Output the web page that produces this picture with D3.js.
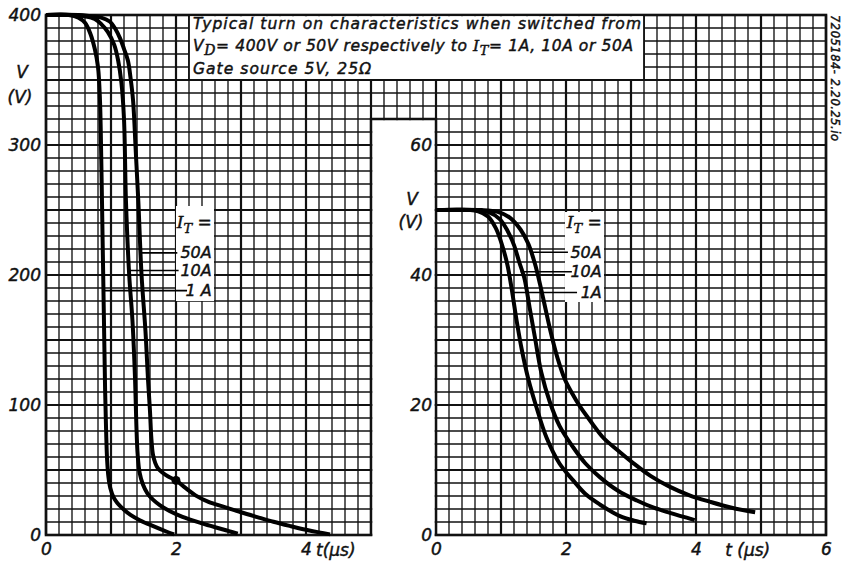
<!DOCTYPE html>
<html>
<head>
<meta charset="utf-8">
<script src="https://cdn.jsdelivr.net/npm/d3@7/dist/d3.min.js"></script>
<style>
  html, body { margin: 0; padding: 0; background: #fff; }
  svg { display: block; }
  text { font-family: "DejaVu Sans", sans-serif; font-style: italic; fill: #111; stroke: #111; stroke-width: 0.45px; }
  .serif { font-family: "DejaVu Serif", serif; }
</style>
</head>
<body>
<svg id="chart" width="845" height="566"></svg>
<script>
// ---------------- DATA ----------------
const currents = ["1A", "10A", "50A"];

// Left panel: switched from VD = 400 V (t in µs, V in volts)
const left1A_t  = [0, 0.35, 0.5, 0.6, 0.68, 0.75, 0.8, 0.83, 0.85, 0.87, 0.89, 0.91, 0.925, 0.94, 0.96, 0.99, 1.04, 1.1, 1.2, 1.3, 1.45, 1.65, 1.86, 1.97];
const left1A_v  = [400, 400, 398, 394, 386, 374, 360, 335, 290, 230, 170, 110, 80, 58, 45, 36, 29, 24.5, 19.5, 15.5, 11.2, 6.8, 2.5, 0.5];
const left10A_t = [0, 0.4, 0.6, 0.75, 0.85, 0.95, 1.05, 1.11, 1.16, 1.2, 1.23, 1.28, 1.33, 1.37, 1.39, 1.41, 1.44, 1.49, 1.56, 1.65, 1.75, 1.9, 2.1, 2.4, 2.63, 2.8, 2.95];
const left10A_v = [400, 400, 399, 397, 393, 387, 377, 365, 348, 320, 257, 200, 165, 120, 85, 62, 48, 39, 32, 27, 23, 18.5, 14, 9, 5.6, 3.2, 1];
const left50A_t = [0, 0.5, 0.7, 0.85, 0.98, 1.07, 1.14, 1.2, 1.26, 1.30, 1.34, 1.38, 1.42, 1.47, 1.53, 1.57, 1.60, 1.62, 1.645, 1.68, 1.72, 1.78, 1.88, 2.0, 2.15, 2.3, 2.5, 2.75, 3.0, 3.25, 3.5, 3.75, 4.0, 4.2, 4.37];
const left50A_v = [400, 400, 399, 398, 395, 389, 382, 374, 365, 352, 334, 296, 257, 200, 157, 119, 95, 75, 62, 55.5, 51.5, 48.5, 45, 42, 36, 30.5, 25.5, 21.5, 17.5, 13.8, 10.2, 7, 4, 2, 0.5];
const leftMarker = { t: 2.0, v: 42 };

// Right panel: switched from VD = 50 V
const right1A_t  = [0, 0.5, 0.65, 0.8, 0.92, 1.02, 1.1, 1.17, 1.24, 1.32, 1.42, 1.55, 1.7, 1.9, 2.11, 2.3, 2.52, 2.83, 3.05, 3.24];
const right1A_v  = [50, 50, 49.8, 49.0, 47.2, 44.5, 41.5, 37.5, 33, 28.5, 24, 19.5, 15, 11, 8.4, 6.3, 4.7, 2.9, 2.2, 1.8];
const right10A_t = [0, 0.6, 0.8, 0.98, 1.1, 1.2, 1.28, 1.36, 1.44, 1.52, 1.62, 1.75, 1.9, 2.11, 2.3, 2.52, 2.8, 3.09, 3.35, 3.6, 3.98];
const right10A_v = [50, 50, 49.7, 48.6, 46.8, 44.6, 42.0, 39.5, 35, 30.5, 25, 20.5, 16.8, 13.5, 11, 8.9, 6.8, 5.3, 4.2, 3.4, 2.3];
const right50A_t = [0, 0.7, 0.95, 1.14, 1.3, 1.42, 1.52, 1.6, 1.68, 1.77, 1.87, 1.98, 2.1, 2.22, 2.4, 2.57, 2.8, 3.03, 3.3, 3.6, 3.9, 4.22, 4.55, 4.91];
const right50A_v = [50, 50, 49.7, 48.8, 47, 44.8, 41.8, 38.6, 35, 31, 27.2, 24, 21.7, 19.7, 17.2, 15.0, 13, 11.1, 9.1, 7.4, 6.1, 5.1, 4.2, 3.5];

// Tick labels
const leftYTicks  = [0, 100, 200, 300, 400];
const rightYTicks = [0, 20, 40, 60];
const leftXTicks  = [0, 2, 4];
const rightXTicks = [0, 2, 4, 6];

// Texts
const titleLine1 = "Typical turn on characteristics when switched from";
const titleLine3 = "Gate source 5V, 25\u03A9";
const docCode = "7205184- 2.20.25.io";

// Legend leader lines (in data coordinates of each panel): [label, v, tStart, tEnd]
const leftLeaders  = [["50A", 217, 1.45, 2.02], ["10A", 203.5, 1.29, 2.04], ["1 A", 188, 0.88, 2.17]];
const rightLeaders = [["50A", 43.5, 1.45, 2.03], ["10A", 40.5, 1.3, 2.09], ["1A", 37.3, 1.17, 2.17]];

// ---------------- LAYOUT ----------------
const svg = d3.select("#chart");
const cell = 13, x0 = 46, yBottom = 535, nCols = 60, nRows = 40;
const yTop = yBottom - nRows * cell;

const xL = d3.scaleLinear().domain([0, 5]).range([x0, x0 + 25 * cell]);
const xR = d3.scaleLinear().domain([0, 6]).range([x0 + 30 * cell, x0 + 60 * cell]);
const yL = d3.scaleLinear().domain([0, 400]).range([yBottom, yTop]);
const yR = d3.scaleLinear().domain([0, 80]).range([yBottom, yTop]);
const gCol = d3.scaleLinear().domain([0, nCols]).range([x0, x0 + nCols * cell]);
const gRow = d3.scaleLinear().domain([0, nRows]).range([yBottom, yTop]);

// ---------------- GRID ----------------
const grid = svg.append("g").attr("stroke", "#111");
grid.selectAll("line.v").data(d3.range(0, nCols + 1)).join("line")
  .attr("x1", d => gCol(d)).attr("x2", d => gCol(d))
  .attr("y1", yTop).attr("y2", yBottom)
  .attr("stroke-width", d => d % 5 === 0 ? 2.2 : 1.35);
grid.selectAll("line.h").data(d3.range(0, nRows + 1)).join("line")
  .attr("y1", d => gRow(d)).attr("y2", d => gRow(d))
  .attr("x1", x0).attr("x2", x0 + nCols * cell)
  .attr("stroke-width", d => d % 5 === 0 ? 2.2 : 1.35);

// outer border
svg.append("rect").attr("x", x0).attr("y", yTop)
  .attr("width", nCols * cell).attr("height", nRows * cell)
  .attr("fill", "none").attr("stroke", "#111").attr("stroke-width", 2.6);

// cutout between panels
const cutTop = gRow(nRows - 8);
svg.append("rect").attr("x", xL(5) + 1.3).attr("y", cutTop + 1.2)
  .attr("width", xR(0) - xL(5) - 2.6).attr("height", 566 - cutTop)
  .attr("fill", "#fff");
svg.append("path")
  .attr("d", `M${xL(5)},${yBottom + 1}V${cutTop}H${xR(0)}V${yBottom + 1}`)
  .attr("fill", "none").attr("stroke", "#111").attr("stroke-width", 2.4);

// title box
const boxL = gCol(11), boxR = gCol(46), boxB = gRow(nRows - 5);
svg.append("rect").attr("x", boxL).attr("y", yTop + 1.3)
  .attr("width", boxR - boxL).attr("height", boxB - yTop - 1.3).attr("fill", "#fff");
svg.append("path").attr("d", `M${boxL},${yTop}V${boxB}H${boxR}V${yTop}`)
  .attr("fill", "none").attr("stroke", "#111").attr("stroke-width", 1.8);

const tfs = 15.5;
svg.append("text").attr("x", boxL + 4).attr("y", 29).attr("font-size", tfs)
  .attr("textLength", 448).attr("lengthAdjust", "spacing").text(titleLine1);
const t2 = svg.append("text").attr("x", boxL + 4).attr("y", 51).attr("font-size", tfs)
  .attr("textLength", 440).attr("lengthAdjust", "spacing");
t2.append("tspan").text("V");
t2.append("tspan").attr("class", "serif").attr("dy", 4).attr("font-size", 14).text("D");
t2.append("tspan").attr("dy", -4).text("= 400V or 50V respectively to ");
t2.append("tspan").attr("class", "serif").text("I");
t2.append("tspan").attr("class", "serif").attr("dy", 4).attr("font-size", 13).text("T");
t2.append("tspan").attr("dy", -4).text("= 1A, 10A or 50A");
svg.append("text").attr("x", boxL + 4).attr("y", 74).attr("font-size", tfs)
  .attr("textLength", 178).attr("lengthAdjust", "spacing").text(titleLine3);

// document code
svg.append("text").attr("transform", "translate(831,15) rotate(90)")
  .attr("font-size", 11.5)
  .attr("textLength", 126).attr("lengthAdjust", "spacing").text(docCode);

// ---------------- CURVES ----------------
const smooth = d3.curveCatmullRom.alpha(0.5);
const lineL = d3.line().x(d => xL(d[0])).y(d => yL(d[1])).curve(smooth);
const lineR = d3.line().x(d => xR(d[0])).y(d => yR(d[1])).curve(smooth);
const leftSeries  = [d3.zip(left1A_t, left1A_v), d3.zip(left10A_t, left10A_v), d3.zip(left50A_t, left50A_v)];
const rightSeries = [d3.zip(right1A_t, right1A_v), d3.zip(right10A_t, right10A_v), d3.zip(right50A_t, right50A_v)];

svg.append("g").selectAll("path").data(leftSeries).join("path")
  .attr("d", lineL).attr("fill", "none").attr("stroke", "#000")
  .attr("stroke-width", 4).attr("stroke-linejoin", "round");
svg.append("g").selectAll("path").data(rightSeries).join("path")
  .attr("d", lineR).attr("fill", "none").attr("stroke", "#000")
  .attr("stroke-width", 4).attr("stroke-linejoin", "round");
svg.append("circle").attr("cx", xL(leftMarker.t)).attr("cy", yL(leftMarker.v))
  .attr("r", 4.5).attr("fill", "#000");

// ---------------- LEGENDS ----------------
function legend(xs, ys, leaders, tEnd, vHead, bg) {
  const g = svg.append("g");
  g.append("rect").attr("x", bg[0]).attr("y", bg[1]).attr("width", bg[2]).attr("height", bg[3]).attr("fill", "#fff");
  const h = g.append("text").attr("x", xs(tEnd)).attr("y", ys(vHead)).attr("text-anchor", "end").attr("font-size", 17);
  h.append("tspan").attr("class", "serif").text("I");
  h.append("tspan").attr("class", "serif").attr("dy", 5).attr("font-size", 13).text("T");
  h.append("tspan").attr("dy", -5).text(" =");
  leaders.forEach(([lab, v, ta, tb]) => {
    g.append("line").attr("x1", xs(ta)).attr("x2", xs(tb)).attr("y1", ys(v)).attr("y2", ys(v))
      .attr("stroke", "#000").attr("stroke-width", 1.6);
    g.append("text").attr("x", xs(tEnd)).attr("y", ys(v) + 5.5).attr("text-anchor", "end")
      .attr("font-size", 16).text(lab);
  });
}
legend(xL, yL, leftLeaders, 2.55, 236, [176, 206, 38, 95]);
legend(xR, yR, rightLeaders, 2.55, 47.2, [565, 212, 39, 90]);

// ---------------- AXES ----------------
function styleAxis(g) {
  g.select(".domain").remove();
  g.selectAll("text").attr("font-size", 17).attr("fill", "#111")
    .attr("font-family", "DejaVu Sans, sans-serif").attr("font-style", "italic");
}
svg.append("g").attr("transform", `translate(${x0},0)`)
  .call(d3.axisLeft(yL).tickValues(leftYTicks).tickSize(0).tickPadding(5).tickFormat(d3.format("d")))
  .call(styleAxis);
svg.append("g").attr("transform", `translate(${xR(0)},0)`)
  .call(d3.axisLeft(yR).tickValues(rightYTicks).tickSize(0).tickPadding(4).tickFormat(d3.format("d")))
  .call(styleAxis);
svg.append("g").attr("transform", `translate(0,${yBottom})`)
  .call(d3.axisBottom(xL).tickValues(leftXTicks).tickSize(0).tickPadding(8).tickFormat(d3.format("d")))
  .call(styleAxis);
svg.append("g").attr("transform", `translate(0,${yBottom})`)
  .call(d3.axisBottom(xR).tickValues(rightXTicks).tickSize(0).tickPadding(8).tickFormat(d3.format("d")))
  .call(styleAxis);

// axis titles
svg.append("text").attr("x", 22).attr("y", 78).attr("text-anchor", "middle").attr("font-size", 17).text("V");
svg.append("text").attr("x", 20).attr("y", 103).attr("text-anchor", "middle").attr("font-size", 17).text("(V)");
svg.append("text").attr("x", 412).attr("y", 205).attr("text-anchor", "middle").attr("font-size", 17).text("V");
svg.append("text").attr("x", 411).attr("y", 228).attr("text-anchor", "middle").attr("font-size", 17).text("(V)");
svg.append("text").attr("x", xL(4) + 10).attr("y", yBottom + 21).attr("font-size", 17).text("t(\u00B5s)");
svg.append("text").attr("x", xR(4.45)).attr("y", yBottom + 21).attr("font-size", 17).text("t (\u00B5s)");
</script>
</body>
</html>
